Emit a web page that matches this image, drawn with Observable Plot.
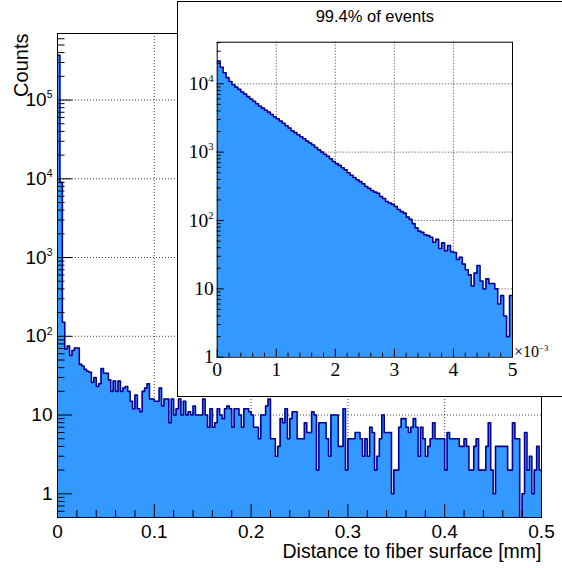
<!DOCTYPE html>
<html><head><meta charset="utf-8">
<script src="https://cdn.jsdelivr.net/npm/d3@7"></script>
<script src="https://cdn.jsdelivr.net/npm/@observablehq/plot@0.6"></script>
<style>
body{margin:0;background:#fff;}
#wrap{position:relative;width:562px;height:568px;overflow:hidden;font-family:"Liberation Sans",Arial,sans-serif;background:#fff;}
#main{position:absolute;left:0;top:0;width:562px;height:568px;}
#insetBox{position:absolute;left:177px;top:1px;width:430px;height:396px;border:1.5px solid #000;background:#fff;box-sizing:border-box;}
#inset{position:absolute;left:178px;top:2px;width:384px;height:394px;}
</style></head><body>
<div id="wrap"><div id="main"></div><div id="insetBox"></div><div id="inset"></div></div>
<script>
// ---------- data ----------
const mainBinWidth = 0.0025; // mm
const mainCounts = [
370000,9000,151,69,75,57,66,71,71,44,
42,38,36,35,26,30,23,25,39,34,
34,28,20,27,20,27,20,22,23,20,
15,12,18,12,11,20,22,25,16,16,
15,15,22,13,16,16,8,16,10,12,
16,10,15,10,11,10,13,10,10,10,
16,10,7,12,7,8,12,10,9,12,
13,12,7,12,12,10,7,12,12,11,
10,7,7,5,10,10,13,16,5,5,
3,4,9,8,12,5,9,11,11,5,
5,5,8,6,6,11,10,2,8,8,
8,5,3,10,10,10,4,4,12,2,
5,5,5,6,6,5,3,5,3,7,
6,2,3,5,10,6,6,6,1,2,
2,7,9,9,7,6,7,9,7,3,
7,5,3,4,5,8,5,5,5,5,
2,6,5,5,5,5,4,4,5,4,
2,2,4,5,2,2,2,4,8,2,
1,4,4,4,4,4,2,2,8,5,
5,0,1,6,2,3,1,2,4,2
];
const mainXTicks = [0,0.1,0.2,0.3,0.4,0.5];
const mainXLabels = ["0","0.1","0.2","0.3","0.4","0.5"];
const mainYTicks = [1,10,100,1000,10000,100000];
const mainYLabels = ["1","10","10^2","10^3","10^4","10^5"];
const mainXTitle = "Distance to fiber surface [mm]";
const mainYTitle = "Counts";

const insetBinWidth = 0.05; // units of 1e-3 mm
const insetCounts = [
21500,17500,14500,12300,10800,9700,8950,8300,7600,7050,
6500,6000,5550,5100,4700,4400,4100,3850,3550,3300,
3080,2850,2650,2430,2250,2060,1930,1800,1680,1570,
1450,1360,1270,1170,1080,1000,930,870,800,730,
680,640,590,550,500,460,425,395,370,345,
315,295,275,260,250,225,210,190,180,172,
160,145,135,128,112,104,90,78,70,67,
62,60,57,48,53,39,47,36,43,35,
34,27,29,23,19,16,11,17,22,13,
10,14,12,12,10,6,8,4,2,8
];
const insetXTicks = [0,1,2,3,4,5];
const insetXLabels = ["0","1","2","3","4","5"];
const insetYTicks = [1,10,100,1000,10000];
const insetYLabels = ["1","10","10^2","10^3","10^4"];
const insetTitle = "99.4% of events";
const insetXScaleLabel = "\u00d710^\u22123";

// ---------- helpers ----------
function stepPoints(counts, w, floor){
  const pts = counts.map((c,i)=>({x:i*w, y:Math.max(c,floor)}));
  pts.push({x:counts.length*w, y:Math.max(counts[counts.length-1],floor)});
  return pts;
}
function logMinor(lo, hi){
  const out=[];
  for(let e=-2;e<=7;e++) for(let k=2;k<=9;k++){const v=k*Math.pow(10,e); if(v>=lo&&v<=hi) out.push(v);}
  return out;
}
function supify(svg){
  d3.select(svg).selectAll("text").each(function(){
    const t=this.textContent; const m=t.match(/^(.*)\^(.+)$/);
    if(!m) return;
    const sel=d3.select(this); sel.text(null);
    sel.append("tspan").text(m[1]);
    sel.append("tspan").attr("font-size","0.55em").attr("dy","-0.75em").text(m[2]);
  });
}
const fill="#3399ff", outline="#000099";
const gridStyle={stroke:"#000", strokeOpacity:0.75, strokeDasharray:"1,2", strokeWidth:1};

// ---------- main plot ----------
const M={left:57,right:21,top:33,bottom:51}, W=562, H=568;
const FW=W-M.left-M.right, FH=H-M.top-M.bottom;
const mainFloor=0.05;
const mainPts=stepPoints(mainCounts, mainBinWidth, mainFloor);
const mainMinorX=d3.range(0,0.5001,0.02).filter(v=>Math.abs(v*10-Math.round(v*10))>1e-6);
const mainMinorY=logMinor(0.5,7e5);

const mainSvg=Plot.plot({
  width:W, height:H,
  marginLeft:M.left, marginRight:M.right, marginTop:M.top, marginBottom:M.bottom,
  x:{domain:[0,0.5], axis:null},
  y:{type:"log", domain:[0.5,7e5], axis:null},
  style:{fontFamily:"'Liberation Sans',Arial,sans-serif", background:"white"},
  marks:[
    Plot.ruleX(mainXTicks.slice(1,-1), gridStyle),
    Plot.ruleY(mainYTicks, gridStyle),
    Plot.areaY(mainPts,{x:"x", y1:mainFloor, y2:"y", curve:"step-after", fill, clip:true}),
    Plot.line(mainPts,{x:"x", y:"y", curve:"step-after", stroke:outline, strokeWidth:1.6, clip:true}),
    Plot.tickX(mainXTicks,{x:d=>d, stroke:"#000", insetTop:FH-13}),
    Plot.tickX(mainMinorX,{x:d=>d, stroke:"#000", insetTop:FH-7}),
    Plot.tickY(mainYTicks,{y:d=>d, stroke:"#000", insetRight:FW-15}),
    Plot.tickY(mainMinorY,{y:d=>d, stroke:"#000", insetRight:FW-7.5}),
    Plot.frame({stroke:"#000", strokeWidth:1}),
    Plot.text(mainXTicks,{x:d=>d, text:(d,i)=>mainXLabels[i], frameAnchor:"bottom", lineAnchor:"bottom", dy:20, fontSize:19, fill:"#000"}),
    Plot.text(mainYTicks,{y:d=>d, text:(d,i)=>mainYLabels[i], frameAnchor:"left", textAnchor:"end", lineAnchor:"middle", dx:-5, fontSize:19, fill:"#000"}),
    Plot.text([mainXTitle],{frameAnchor:"bottom-right", textAnchor:"end", lineAnchor:"bottom", dy:40, fontSize:19.5, fill:"#000"}),
    Plot.text([mainYTitle],{frameAnchor:"top-left", textAnchor:"end", lineAnchor:"bottom", rotate:-90, dx:-30, fontSize:20, fill:"#000"})
  ]
});
supify(mainSvg);
document.getElementById("main").appendChild(mainSvg);

// ---------- inset plot ----------
const I={left:38.7,right:50,top:39.7,bottom:39.3}, IW=384, IH=394;
const IFW=IW-I.left-I.right, IFH=IH-I.top-I.bottom;
const insetFloor=0.3;
const insetPts=stepPoints(insetCounts, insetBinWidth, insetFloor);
const insetMinorX=d3.range(0,5.0001,0.2).filter(v=>Math.abs(v-Math.round(v))>1e-6);
const insetMinorY=logMinor(1,40600);
const serif="'Liberation Serif','Times New Roman',serif";

const insetSvg=Plot.plot({
  width:IW, height:IH,
  marginLeft:I.left, marginRight:I.right, marginTop:I.top, marginBottom:I.bottom,
  x:{domain:[0,5], axis:null},
  y:{type:"log", domain:[1,40600], axis:null},
  style:{fontFamily:"'Liberation Sans',Arial,sans-serif", background:"transparent", overflow:"visible"},
  marks:[
    Plot.ruleX(insetXTicks.slice(1,-1), gridStyle),
    Plot.ruleY(insetYTicks.slice(1), gridStyle),
    Plot.areaY(insetPts,{x:"x", y1:insetFloor, y2:"y", curve:"step-after", fill, clip:true}),
    Plot.line(insetPts,{x:"x", y:"y", curve:"step-after", stroke:outline, strokeWidth:1.6, clip:true}),
    Plot.tickX(insetXTicks,{x:d=>d, stroke:"#000", insetTop:IFH-8}),
    Plot.tickX(insetMinorX,{x:d=>d, stroke:"#000", insetTop:IFH-4}),
    Plot.tickY(insetYTicks,{y:d=>d, stroke:"#000", insetRight:IFW-7}),
    Plot.tickY(insetMinorY,{y:d=>d, stroke:"#000", insetRight:IFW-4}),
    Plot.frame({stroke:"#000", strokeWidth:1}),
    Plot.text(insetXTicks,{x:d=>d, text:(d,i)=>insetXLabels[i], frameAnchor:"bottom", lineAnchor:"bottom", dy:18.3, fontSize:19.5, fontFamily:serif, fill:"#000"}),
    Plot.text(insetYTicks,{y:d=>d, text:(d,i)=>insetYLabels[i], frameAnchor:"left", textAnchor:"end", lineAnchor:"middle", dx:-3.5, fontSize:19.5, fontFamily:serif, fill:"#000"}),
    Plot.text([insetXScaleLabel],{frameAnchor:"bottom-right", textAnchor:"start", lineAnchor:"bottom", dx:1.5, dy:0, fontSize:16, fontFamily:serif, fill:"#000"}),
    Plot.text([insetTitle],{frameAnchor:"top-left", textAnchor:"middle", lineAnchor:"bottom", dx:157.6, dy:-20, fontSize:16.5, fill:"#000"})
  ]
});
supify(insetSvg);
document.getElementById("inset").appendChild(insetSvg);
</script>
</body></html>
